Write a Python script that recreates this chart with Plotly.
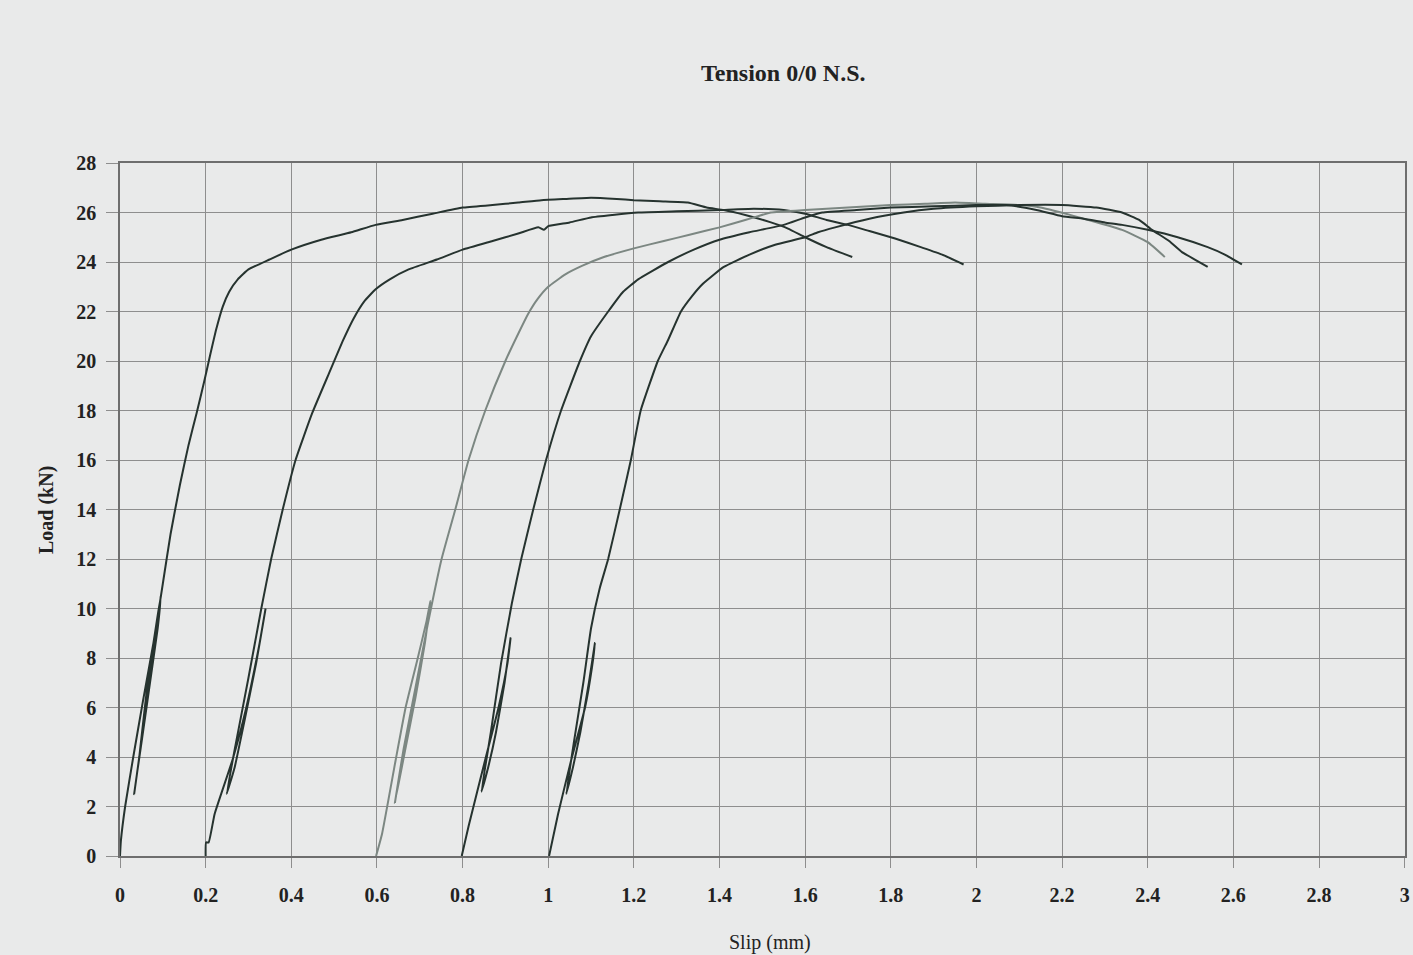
import plotly.graph_objects as go

# Curve data (Slip mm, Load kN)
c1_x = [0.0, 0.002, 0.012, 0.031, 0.054, 0.078, 0.095, 0.088, 0.070, 0.052, 0.033, 0.045, 0.062, 0.082, 0.100, 0.118, 0.140, 0.160, 0.179, 0.197, 0.210, 0.225, 0.240, 0.255, 0.275, 0.300, 0.349, 0.400, 0.470, 0.540, 0.597, 0.660, 0.730, 0.800, 0.870, 0.930, 0.984, 1.040, 1.100, 1.160, 1.200, 1.260, 1.326, 1.370, 1.410, 1.460, 1.520, 1.560, 1.600, 1.650, 1.710]
c1_y = [0.0, 0.6, 2.0, 4.0, 6.3, 8.6, 10.5, 9.2, 7.0, 4.8, 2.5, 4.0, 6.6, 9.0, 11.0, 13.0, 15.0, 16.6, 17.9, 19.2, 20.2, 21.3, 22.2, 22.8, 23.3, 23.7, 24.1, 24.5, 24.9, 25.2, 25.5, 25.7, 25.95, 26.2, 26.3, 26.4, 26.5, 26.55, 26.6, 26.55, 26.5, 26.45, 26.4, 26.2, 26.1, 25.9, 25.6, 25.35, 25.0, 24.6, 24.2]

c2_x = [0.200, 0.201, 0.207, 0.221, 0.263, 0.295, 0.326, 0.340, 0.318, 0.290, 0.268, 0.249, 0.270, 0.300, 0.330, 0.353, 0.380, 0.410, 0.449, 0.488, 0.520, 0.545, 0.570, 0.597, 0.630, 0.674, 0.740, 0.800, 0.870, 0.930, 0.977, 0.990, 1.000, 1.050, 1.100, 1.150, 1.210, 1.300, 1.400, 1.480, 1.550, 1.600, 1.650, 1.700, 1.750, 1.810, 1.870, 1.920, 1.970]
c2_y = [0.0, 0.55, 0.55, 1.7, 3.9, 6.0, 8.6, 10.0, 7.8, 5.4, 3.6, 2.5, 4.5, 7.2, 10.0, 12.0, 14.0, 16.0, 17.9, 19.5, 20.8, 21.7, 22.4, 22.9, 23.3, 23.7, 24.1, 24.5, 24.85, 25.15, 25.4, 25.3, 25.45, 25.6, 25.8, 25.9, 26.0, 26.05, 26.1, 26.15, 26.1, 25.95, 25.7, 25.5, 25.25, 24.95, 24.6, 24.3, 23.9]

c3_x = [0.598, 0.612, 0.644, 0.667, 0.694, 0.716, 0.725, 0.712, 0.690, 0.665, 0.642, 0.662, 0.690, 0.718, 0.751, 0.783, 0.814, 0.853, 0.900, 0.930, 0.953, 0.975, 1.000, 1.040, 1.080, 1.130, 1.200, 1.270, 1.330, 1.400, 1.460, 1.490, 1.520, 1.600, 1.700, 1.800, 1.880, 1.950, 2.020, 2.100, 2.150, 2.240, 2.340, 2.400, 2.440]
c3_y = [0.0, 0.9, 3.9, 6.0, 7.9, 9.5, 10.3, 8.6, 6.4, 4.2, 2.15, 4.3, 6.8, 9.3, 12.0, 14.0, 16.0, 18.0, 20.0, 21.1, 21.9, 22.5, 23.0, 23.5, 23.85, 24.2, 24.55, 24.85, 25.1, 25.4, 25.7, 25.85, 26.0, 26.1, 26.2, 26.3, 26.35, 26.4, 26.35, 26.3, 26.2, 25.8, 25.3, 24.8, 24.2]

c4_x = [0.798, 0.814, 0.853, 0.884, 0.905, 0.912, 0.898, 0.878, 0.860, 0.844, 0.866, 0.890, 0.915, 0.937, 0.965, 0.995, 1.030, 1.074, 1.100, 1.140, 1.175, 1.210, 1.280, 1.340, 1.400, 1.470, 1.550, 1.600, 1.640, 1.720, 1.800, 1.900, 2.000, 2.070, 2.140, 2.200, 2.250, 2.300, 2.340, 2.400, 2.470, 2.540, 2.580, 2.620]
c4_y = [0.0, 1.2, 3.9, 6.0, 7.8, 8.8, 7.0, 5.0, 3.6, 2.6, 5.0, 7.8, 10.2, 12.0, 14.0, 16.0, 18.0, 20.0, 21.0, 22.0, 22.8, 23.3, 24.0, 24.5, 24.9, 25.2, 25.5, 25.8, 26.0, 26.1, 26.2, 26.25, 26.3, 26.3, 26.1, 25.85, 25.75, 25.6, 25.5, 25.3, 25.0, 24.6, 24.3, 23.9]

c5_x = [1.002, 1.023, 1.054, 1.086, 1.102, 1.109, 1.095, 1.075, 1.058, 1.042, 1.060, 1.082, 1.100, 1.120, 1.140, 1.167, 1.193, 1.216, 1.256, 1.280, 1.310, 1.335, 1.360, 1.410, 1.470, 1.530, 1.600, 1.630, 1.670, 1.750, 1.830, 1.900, 2.000, 2.100, 2.200, 2.280, 2.340, 2.380, 2.410, 2.450, 2.480, 2.510, 2.540]
c5_y = [0.0, 1.7, 3.9, 6.0, 7.6, 8.6, 7.0, 5.0, 3.6, 2.5, 4.6, 7.0, 9.2, 10.8, 12.0, 14.0, 16.0, 18.0, 20.0, 20.85, 22.0, 22.6, 23.1, 23.8, 24.3, 24.7, 25.0, 25.2, 25.4, 25.75, 26.0, 26.15, 26.25, 26.3, 26.3, 26.2, 26.0, 25.7, 25.3, 24.85, 24.4, 24.1, 23.8]

x_ticks = [0, 0.2, 0.4, 0.6, 0.8, 1, 1.2, 1.4, 1.6, 1.8, 2, 2.2, 2.4, 2.6, 2.8, 3]
x_labels = ["0", "0.2", "0.4", "0.6", "0.8", "1", "1.2", "1.4", "1.6", "1.8", "2", "2.2", "2.4", "2.6", "2.8", "3"]
y_ticks = list(range(0, 29, 2))

dark = "#26332f"
grey = "#7c8782"

fig = go.Figure()
series = [(c1_x, c1_y, dark), (c2_x, c2_y, dark), (c3_x, c3_y, grey),
          (c4_x, c4_y, dark), (c5_x, c5_y, dark)]
for xs, ys, col in series:
    fig.add_trace(go.Scatter(x=xs, y=ys, mode="lines",
                             line=dict(color=col, width=2, shape="spline", smoothing=0.4),
                             showlegend=False, hoverinfo="skip"))

font_family = "Liberation Serif, Times New Roman, serif"
bg = "#e9eaea"

L, R, T, B = 120, 8, 163, 99
W, H = 1413, 955
pw = W - L - R
ph = H - T - B

fig.update_layout(
    width=W, height=H,
    margin=dict(l=L, r=R, t=T, b=B, autoexpand=False),
    paper_bgcolor=bg, plot_bgcolor=bg,
    font=dict(family=font_family, color="#222"),
    showlegend=False,
    xaxis=dict(range=[0, 3.0008], tickvals=x_ticks, ticktext=x_labels,
               showgrid=True, gridcolor="#8e8e8e", gridwidth=1,
               zeroline=False, showline=True, linecolor="#6e6e6e", linewidth=1.5,
               mirror=True,
               ticks="outside", ticklen=10, tickcolor="#8e8e8e",
               ticklabelstandoff=10, ticklabeloverflow="allow",
               tickfont=dict(family=font_family, size=20, color="#222", weight="bold")),
    yaxis=dict(range=[0, 28], tickvals=y_ticks,
               showgrid=True, gridcolor="#8e8e8e", gridwidth=1,
               zeroline=False, showline=True, linecolor="#6e6e6e", linewidth=1.5,
               mirror=True,
               ticks="outside", ticklen=12, tickcolor="#8e8e8e",
               ticklabelstandoff=6,
               tickfont=dict(family=font_family, size=20, color="#222", weight="bold")),
)

# annotation positions given in pixels, converted to paper coordinates
ann_text = ["<b>Tension 0/0 N.S.</b>", "Slip (mm)", "<b>Load (kN)</b>"]
ann_xpix = [783, 770, 47]
ann_ypix = [73, 942, 510]
ann_size = [24, 20, 20]
ann_angle = [0, 0, -90]
for t, xp, yp, s, ang in zip(ann_text, ann_xpix, ann_ypix, ann_size, ann_angle):
    fig.add_annotation(text=t, x=(xp - L) / pw, y=(H - B - yp) / ph,
                       xref="paper", yref="paper", showarrow=False,
                       xanchor="center", yanchor="middle", textangle=ang,
                       font=dict(size=s, family=font_family, color="#222"))

fig.write_html("out.html")
